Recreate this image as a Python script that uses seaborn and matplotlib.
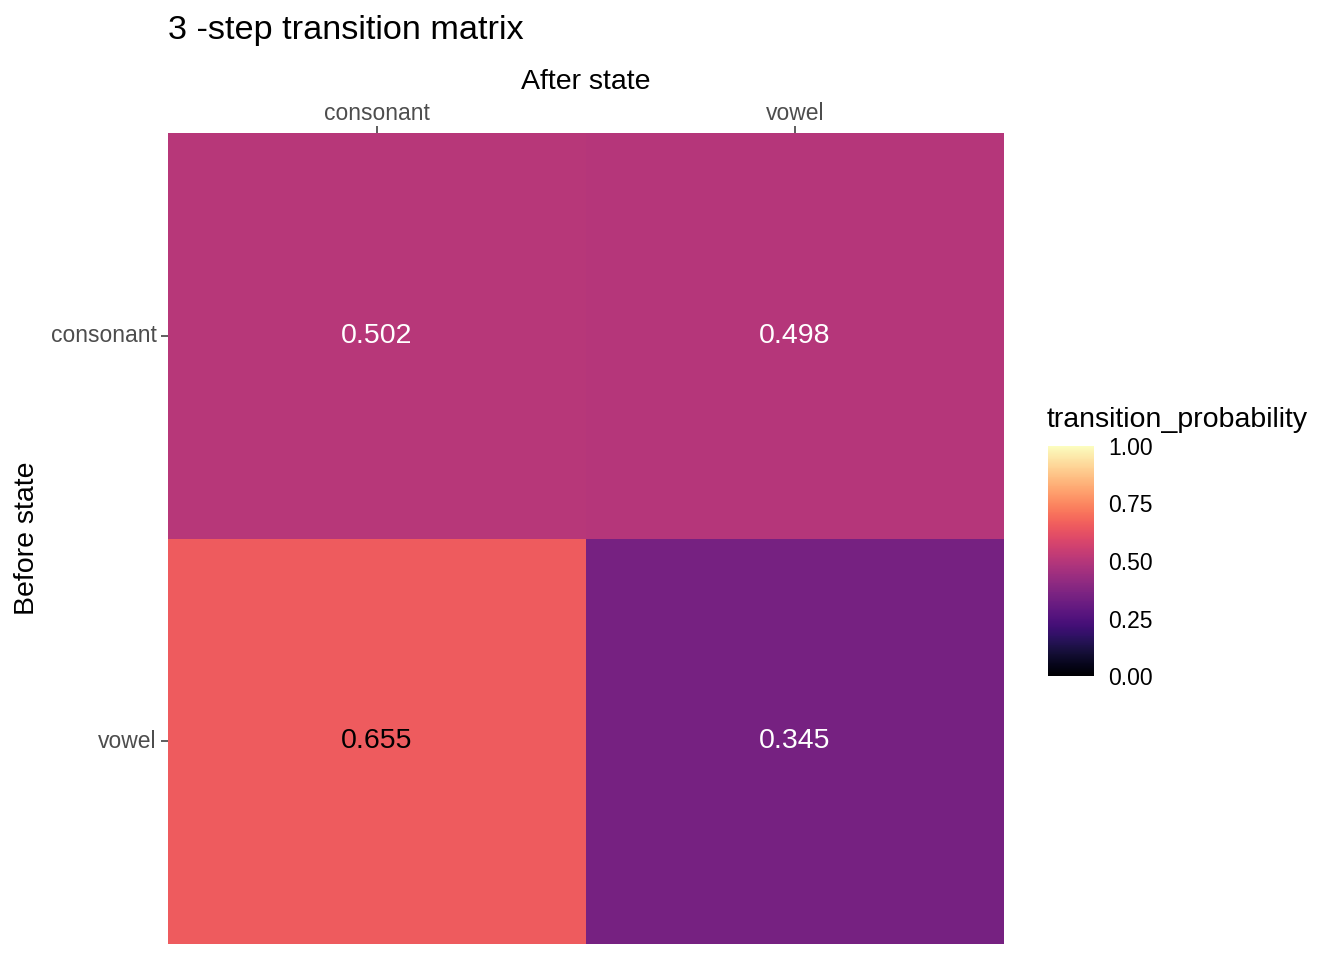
import numpy as np
import pandas as pd
import matplotlib
matplotlib.use("Agg")
import matplotlib.pyplot as plt
import seaborn as sns

# Data
before_states = ["consonant", "vowel"]
after_states = ["consonant", "vowel"]
prob_consonant = [0.502, 0.498]
prob_vowel = [0.655, 0.345]
cbar_ticks = [0.00, 0.25, 0.50, 0.75, 1.00]
cbar_ticklabels = ["0.00", "0.25", "0.50", "0.75", "1.00"]

df = pd.DataFrame([prob_consonant, prob_vowel], index=before_states, columns=after_states)

sns.set_style("white")
plt.rcParams['font.family'] = ['Liberation Sans', 'DejaVu Sans']
plt.rcParams['text.color'] = 'black'
plt.rcParams['axes.labelcolor'] = 'black'

fig = plt.figure(figsize=(13.44, 9.6), dpi=100)
ax = fig.add_axes([168/1344, 1-944/960, (1004-168)/1344, (944-133)/960])
cax = fig.add_axes([1048/1344, 1-676/960, 46/1344, 230/960])

sns.heatmap(df, ax=ax, cbar_ax=cax, cmap="magma", vmin=0, vmax=1,
            annot=True, fmt=".3f", annot_kws={"fontsize": 20.5},
            cbar_kws={"ticks": cbar_ticks})

for t in ax.texts:
    v = float(t.get_text())
    t.set_color("black" if v > 0.6 else "white")

ax.xaxis.tick_top()
ax.xaxis.set_label_position("top")
ax.set_xlabel("After state", fontsize=20.5)
ax.set_ylabel("Before state", fontsize=20.5)
ax.xaxis.set_label_coords((586-168)/836, (944-82)/811)
ax.yaxis.set_label_coords((27-168)/836, 0.5)
ax.xaxis.label.set_va("center")
ax.yaxis.label.set_va("center")
ax.tick_params(axis="both", labelsize=16.5, labelcolor="#4D4D4D", color="#333333",
               length=5, width=1.1, pad=3)
ax.tick_params(axis="x", top=True, bottom=False, pad=0.5)
ax.tick_params(axis="y", left=True)
plt.setp(ax.get_yticklabels(), rotation=0)
plt.setp(ax.get_xticklabels(), rotation=0)
for s in ax.spines.values():
    s.set_visible(False)

cax.set_yticks(cbar_ticks)
cax.set_yticklabels(cbar_ticklabels)
cax.tick_params(axis="y", direction="in", length=8, width=1, color="white",
                left=True, right=True, labelleft=False, labelright=True,
                labelsize=16.5, labelcolor="black", pad=10)
for s in cax.spines.values():
    s.set_visible(False)

fig.text(1047/1344, 1-420/960, "transition_probability", fontsize=20.5,
         ha="left", va="center")
fig.text(168/1344, 1-30/960, "3 -step transition matrix", fontsize=24.7,
         ha="left", va="center")

fig.savefig("out.png", dpi=100)
